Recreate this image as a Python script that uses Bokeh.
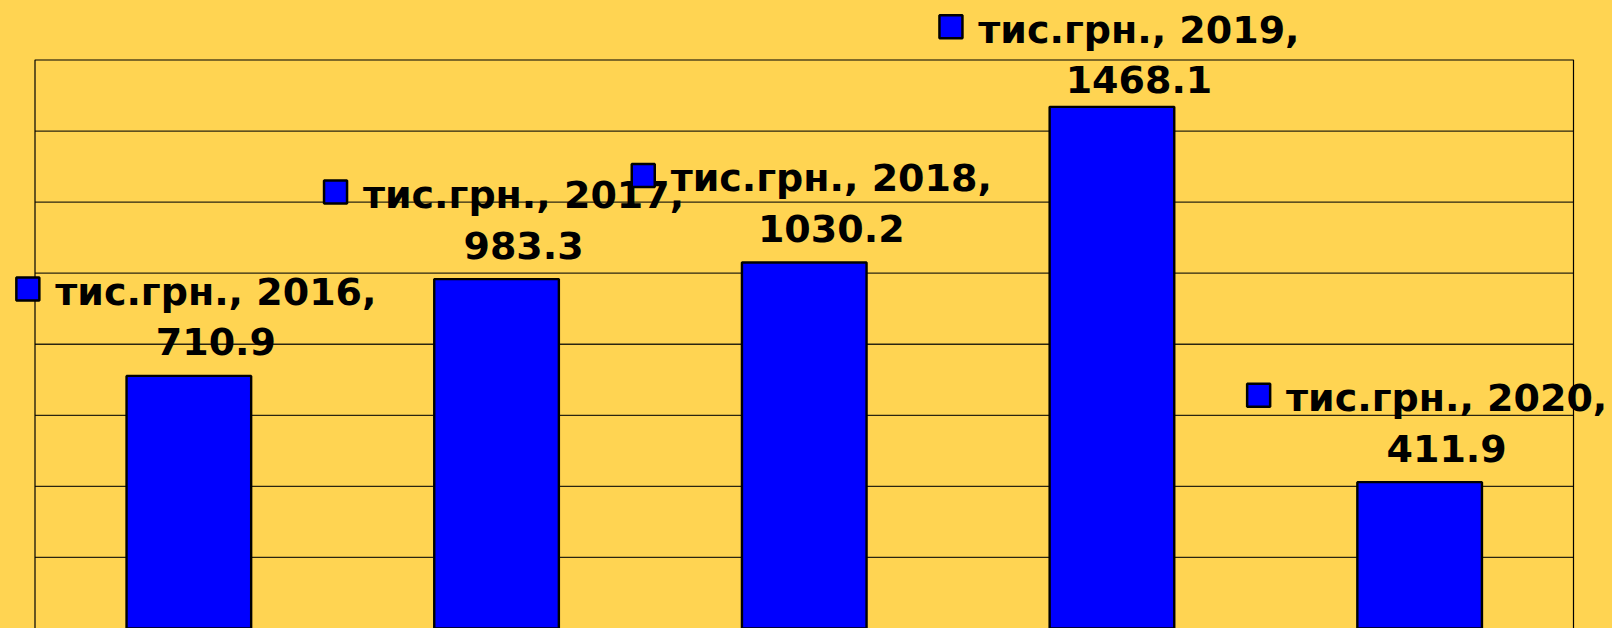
from bokeh.plotting import figure
from bokeh.models import Range1d
from bokeh.embed import file_html
from bokeh.resources import INLINE
from bokeh.core.properties import value

# ---- data ----
years = ["2016", "2017", "2018", "2019", "2020"]
values = [710.9, 983.3, 1030.2, 1468.1, 411.9]
unit = "тис.грн."
grid_ticks = [200, 400, 600, 800, 1000, 1200, 1400]
y_max = 1600

# ---- layout (page pixels) ----
BG = "#FFD452"
W, H = 1612, 628
AREA_L, AREA_R, AREA_T = 34.5, 1573.0, 59.5   # plot-area box on the page
n = len(years)
px_per_cat = (AREA_R - AREA_L) / n
px_per_unit = (H - AREA_T) / y_max

x_start = -0.5 - AREA_L / px_per_cat
x_end = n - 0.5 + (W - AREA_R) / px_per_cat
y_start = 0
y_end = y_max + AREA_T / px_per_unit

p = figure(width=W, height=H, output_backend="svg", toolbar_location=None,
           x_range=Range1d(x_start, x_end), y_range=Range1d(y_start, y_end),
           x_axis_location=None, y_axis_location=None)
p.min_border = 0
p.min_border_left = 0
p.min_border_right = 0
p.min_border_top = 0
p.min_border_bottom = 0
p.background_fill_color = BG
p.border_fill_color = BG
p.outline_line_color = None
p.grid.visible = False

# gridlines
p.segment(x0=[-0.5] * len(grid_ticks), x1=[n - 0.5] * len(grid_ticks),
          y0=grid_ticks, y1=grid_ticks, line_color="#2a2410", line_width=1.3)
# plot-area border
p.quad(left=[-0.5], right=[n - 0.5], bottom=[0], top=[y_max],
       fill_alpha=0, line_color="black", line_width=1.2)

xs = list(range(n))
p.vbar(x=xs, top=values, bottom=0, width=0.405,
       fill_color="#0000FF", line_color="black", line_width=2.4)

# labels: gap (px) between bar top and line-2 digits
gaps = [20, 20, 20, 13, 20]
line_gap = 50
baseline_fix = 14
font = value("DejaVu Sans")
line1 = [f"{unit}, {y}," for y in years]
line2 = [f"{v:.1f}" for v in values]
for i in xs:
    v = values[i]
    g = gaps[i]
    p.text(x=[i], y=[v], text=[line2[i]], text_font=font,
           text_font_size="38px", text_font_style="bold", text_color="black",
           text_align="center", text_baseline="alphabetic",
           x_offset=27, y_offset=-(g + baseline_fix))
    p.text(x=[i], y=[v], text=[line1[i]], text_font=font,
           text_font_size="38px", text_font_style="bold", text_color="black",
           text_align="center", text_baseline="alphabetic",
           x_offset=27, y_offset=-(g + line_gap + baseline_fix))

# legend keys to the left of line 1
kx = [i - 161 / px_per_cat for i in xs]
ky = [values[i] + (gaps[i] + line_gap + 17) / px_per_unit for i in xs]
p.rect(x=kx, y=ky, width=23, height=23, width_units="screen", height_units="screen",
       fill_color="#0000FF", line_color="black", line_width=2.5)

html = file_html(p, INLINE).replace("<body>", "<body style=\"background-color:%s;\">" % BG)
open("out.html", "w").write(html)
